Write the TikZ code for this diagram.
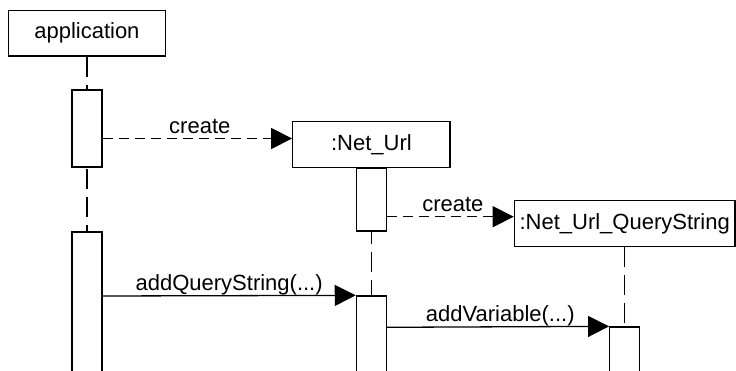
\documentclass[tikz,border=0pt]{standalone}
\usepackage{fontspec}
\setmainfont{Liberation Sans}
\usetikzlibrary{arrows.meta}
\begin{document}
\begin{tikzpicture}[x=1pt, y=-1pt, line width=1.3pt,
  txt/.style={font=\fontsize{22}{25}\selectfont},
  obj/.style={draw, fill=white, txt, inner sep=0pt},
  act/.style={draw, fill=white, minimum width=30pt, inner sep=0pt},
  life/.style={dash pattern=on 20pt off 8pt},
  msg/.style={-{Triangle[length=21pt, width=21pt]}},
  creation/.style={msg, dash pattern=on 10pt off 6pt},
  lbl/.style={txt, anchor=base, inner sep=0pt, yshift=5pt}]
  \useasboundingbox (0,0) rectangle (736,371);
  \clip (0,0) rectangle (736,371);

  % objects
  \node[obj, minimum width=157.4pt, minimum height=45.6pt] (app) at (86.9,33.3) {application};
  \node[obj, minimum width=157.3pt, minimum height=45.6pt] (nu)  at (371.4,144.5) {:Net\_Url};
  \node[obj, minimum width=220.7pt, minimum height=46pt]   (qs)  at (624.7,223.7) {:Net\_Url\_QueryString};

  % lifelines
  \draw[life] (app.south) -- (app.south |- 0,380);
  \draw[life] (nu.south)  -- (nu.south |- 0,380);
  \draw[life] (qs.south)  -- (qs.south |- 0,380);

  % activations
  \node[act, minimum height=77pt]  (a1) at (app.south |- 0,128.5) {};
  \node[act, minimum height=148pt] (a2) at (app.south |- 0,306) {};
  \node[act, minimum height=63pt]  (b1) at (nu.south |- 0,199.5) {};
  \node[act, minimum height=84pt]  (b2) at (nu.south |- 0,338) {};
  \node[act, minimum height=53pt]  (c1) at (qs.south |- 0,353.5) {};

  % messages
  \draw[creation] (a1.east |- 0,138.5) -- (nu.west |- 0,138.5)
    node[lbl, pos=0.513] {create};
  \draw[creation] (b1.east |- 0,216.7) -- (qs.west |- 0,216.7)
    node[lbl, pos=0.52] {create};
  \draw[msg] (a2.east |- 0,296) -- (b2.north west)
    node[lbl, pos=0.5] {addQueryString(...)};
  \draw[msg] (b2.east |- 0,327.3) -- (c1.north west)
    node[lbl, pos=0.51] {addVariable(...)};
\end{tikzpicture}
\end{document}
